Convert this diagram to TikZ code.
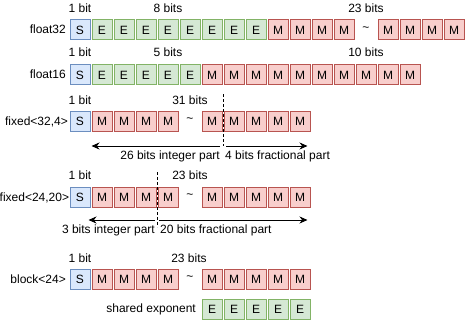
\documentclass[tikz,border=0pt]{standalone}
\usepackage{fontspec}
\setmainfont{Liberation Sans}
\usetikzlibrary{arrows.meta,positioning}
\definecolor{sfill}{HTML}{DAE8FC}
\definecolor{sline}{HTML}{6C8EBF}
\definecolor{efill}{HTML}{D5E8D4}
\definecolor{eline}{HTML}{82B366}
\definecolor{mfill}{HTML}{F8CECC}
\definecolor{mline}{HTML}{B85450}

\begin{document}
\begin{tikzpicture}[
  x=1pt,y=-1pt,
  bit/.style={draw,minimum size=20pt,inner sep=0pt,line width=1pt,
              font=\fontsize{12}{14}\selectfont},
  sbit/.style={bit,draw=sline,fill=sfill},
  ebit/.style={bit,draw=eline,fill=efill},
  mbit/.style={bit,draw=mline,fill=mfill},
  lbl/.style={inner sep=0pt,font=\fontsize{12}{14}\selectfont},
  cut/.style={dash pattern=on 3pt off 2pt,line width=1pt},
  flow/.style={-{Stealth[length=8pt,width=7pt]},line width=1pt}
]
\useasboundingbox (0,0) rectangle (466,321);

% float32
\node[lbl,anchor=base east] (f32) at (66,34) {float32};
\node[sbit] (f32-0) at (80,30) {S};
\foreach \i in {1,...,8} \node[ebit] (f32-\i) at (80+22*\i,30) {E};
\foreach \i in {9,...,12} \node[mbit] (f32-\i) at (80+22*\i,30) {M};
\node[lbl] (f32-13) at (366,29) {\textasciitilde};
\foreach \i in {14,...,17} \node[mbit] (f32-\i) at (80+22*\i,30) {M};
\node[lbl,anchor=base] (f32-s) at (80,13) {1 bit};
\node[lbl,anchor=base] (f32-e) at (168,13) {8 bits};
\node[lbl,anchor=base] (f32-m) at (366,13) {23 bits};

% float16
\node[lbl,anchor=base east] (f16) at (66,79) {float16};
\node[sbit] (f16-0) at (80,75) {S};
\foreach \i in {1,...,5} \node[ebit] (f16-\i) at (80+22*\i,75) {E};
\foreach \i in {6,...,15} \node[mbit] (f16-\i) at (80+22*\i,75) {M};
\node[lbl,anchor=base] (f16-s) at (80,57) {1 bit};
\node[lbl,anchor=base] (f16-e) at (168,57) {5 bits};
\node[lbl,anchor=base] (f16-m) at (366,57) {10 bits};

% fixed<32,4>
\node[lbl,anchor=base east] (x32) at (68,125) {fixed<32,4>};
\node[sbit] (x32-0) at (80,121) {S};
\foreach \i in {1,...,4} \node[mbit] (x32-\i) at (80+22*\i,121) {M};
\node[lbl] (x32-5) at (190,120) {\textasciitilde};
\foreach \i in {6,...,10} \node[mbit] (x32-\i) at (80+22*\i,121) {M};
\node[lbl,anchor=base] (x32-s) at (80,104) {1 bit};
\node[lbl,anchor=base] (x32-m) at (190,104) {31 bits};
\coordinate (x32-top) at (223,94);
\coordinate (x32-cut) at (223,146);
\draw[cut] (x32-top) -- (x32-cut);
\draw[flow] ([xshift=-3pt]x32-cut) -- (x32-1.west |- x32-cut);
\draw[flow] ([xshift=3pt]x32-cut) -- ([xshift=-3pt]x32-10.east |- x32-cut);
\node[lbl,anchor=base east] (x32-int) at (220,159) {26 bits integer part};
\node[lbl,anchor=base west] (x32-frac) at (225,159) {4 bits fractional part};

% fixed<24,20>
\node[lbl,anchor=base east] (x24) at (69.3,201) {fixed<24,20>};
\node[sbit] (x24-0) at (80,197) {S};
\foreach \i in {1,...,4} \node[mbit] (x24-\i) at (80+22*\i,197) {M};
\node[lbl] (x24-5) at (190,196) {\textasciitilde};
\foreach \i in {6,...,10} \node[mbit] (x24-\i) at (80+22*\i,197) {M};
\node[lbl,anchor=base] (x24-s) at (80,179) {1 bit};
\node[lbl,anchor=base] (x24-m) at (190,179) {23 bits};
\coordinate (x24-top) at (157,172);
\coordinate (x24-cut) at (157,220);
\coordinate (x24-bot) at (157,227);
\draw[cut] (x24-top) -- (x24-bot);
\draw[flow] ([xshift=-2pt]x24-cut) -- ([xshift=-3pt]x24-1.west |- x24-cut);
\draw[flow] ([xshift=2pt]x24-cut) -- ([xshift=-3pt]x24-10.east |- x24-cut);
\node[lbl,anchor=base east] (x24-int) at (155,233) {3 bits integer part};
\node[lbl,anchor=base west] (x24-frac) at (160,233) {20 bits fractional part};

% block<24>
\node[lbl,anchor=base east] (blk) at (66,283) {block<24>};
\node[sbit] (blk-0) at (80,279) {S};
\foreach \i in {1,...,4} \node[mbit] (blk-\i) at (80+22*\i,279) {M};
\node[lbl] (blk-5) at (190,278) {\textasciitilde};
\foreach \i in {6,...,10} \node[mbit] (blk-\i) at (80+22*\i,279) {M};
\node[lbl,anchor=base] (blk-s) at (80,262) {1 bit};
\node[lbl,anchor=base] (blk-m) at (189,262) {23 bits};

% shared exponent
\node[lbl,anchor=base east] (shx) at (196,312) {shared exponent};
\foreach \i in {6,...,10} \node[ebit] (shx-\i) at (80+22*\i,309) {E};
\end{tikzpicture}
\end{document}
